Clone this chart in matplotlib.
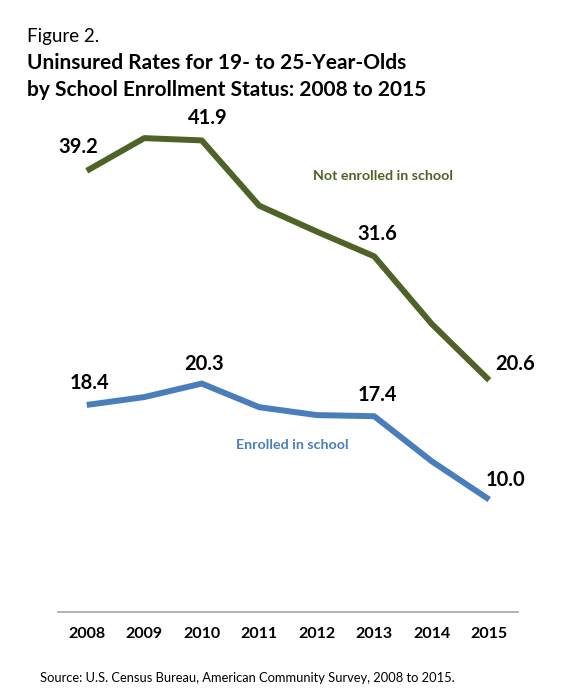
import matplotlib.pyplot as plt

years = [2008, 2009, 2010, 2011, 2012, 2013, 2014, 2015]
not_enrolled = [39.2, 42.1, 41.9, 36.1, 33.8, 31.6, 25.6, 20.6]
enrolled = [18.4, 19.1, 20.3, 18.2, 17.5, 17.4, 13.4, 10.0]
labeled_idx = [0, 2, 5, 7]

green = '#4F6228'
blue = '#4A7EBB'

plt.rcParams['font.family'] = ['Lato', 'DejaVu Sans']

fig = plt.figure(figsize=(5.8, 6.94), dpi=100, facecolor='w')
ax = fig.add_axes([0.1, 0.118, 0.793, 0.73])

ax.plot(years, not_enrolled, color=green, lw=4.3, solid_capstyle='butt')
ax.plot(years, enrolled, color=blue, lw=4.3, solid_capstyle='butt')

# offsets (points) for the value labels
off_ne = {0: (-6, 17), 2: (4, 16), 5: (2, 16), 7: (19, 12)}
off_e = {0: (2, 16), 2: (2, 14), 5: (2, 15), 7: (12, 14)}
for i in labeled_idx:
    ax.annotate(f'{not_enrolled[i]:.1f}', (years[i], not_enrolled[i]),
                xytext=off_ne[i], textcoords='offset points',
                ha='center', va='center', fontsize=14.5, fontweight='bold')
    ax.annotate(f'{enrolled[i]:.1f}', (years[i], enrolled[i]),
                xytext=off_e[i], textcoords='offset points',
                ha='center', va='center', fontsize=14.5, fontweight='bold')

ax.text(2013.15, 38.7, 'Not enrolled in school', color=green,
        fontsize=10.3, fontweight='bold', ha='center', va='center')
ax.text(2011.57, 14.8, 'Enrolled in school', color=blue,
        fontsize=10.3, fontweight='bold', ha='center', va='center')

ax.set_xlim(2007.5, 2015.5)
ax.set_ylim(0, 45)
ax.set_xticks(years)
ax.set_xticklabels([str(y) for y in years], fontsize=11.5, fontweight='bold')
ax.set_yticks([])
ax.tick_params(axis='x', length=0, pad=11)
for s in ['top', 'right', 'left']:
    ax.spines[s].set_visible(False)
ax.spines['bottom'].set_color('#A6A6A6')
ax.spines['bottom'].set_linewidth(1.2)

fig.text(0.047, 0.948, 'Figure 2.', fontsize=13.5, va='center')
fig.text(0.047, 0.909, 'Uninsured Rates for 19- to 25-Year-Olds',
         fontsize=15, fontweight='bold', va='center')
fig.text(0.047, 0.871, 'by School Enrollment Status: 2008 to 2015',
         fontsize=15, fontweight='bold', va='center')
fig.text(0.069, 0.023, 'Source: U.S. Census Bureau, American Community Survey, 2008 to 2015.',
         fontsize=9.3, va='center')

fig.savefig('out.png', dpi=100)
